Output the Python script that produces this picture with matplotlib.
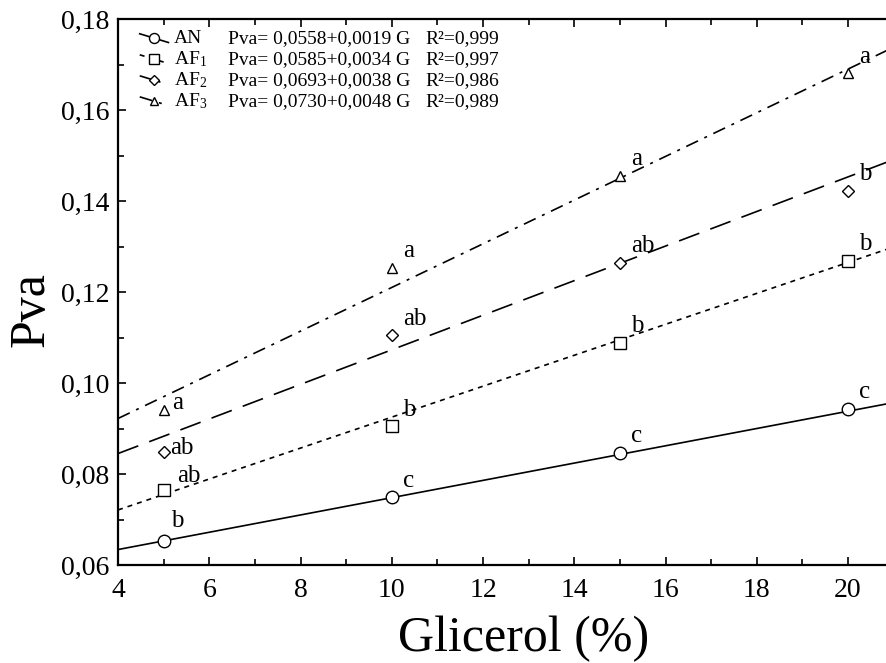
import numpy as np
import matplotlib.pyplot as plt
from matplotlib.ticker import MultipleLocator, FuncFormatter

plt.rcParams['font.family'] = ['Liberation Serif', 'DejaVu Serif']
plt.rcParams['mathtext.fontset'] = 'custom'
plt.rcParams['mathtext.rm'] = 'Liberation Serif'
plt.rcParams['mathtext.it'] = 'Liberation Serif:italic'

# data
glicerol = [5, 10, 15, 20]
series = ["AN", "AF$_1$", "AF$_2$", "AF$_3$"]
pva_an = [0.0653, 0.0749, 0.0846, 0.0943]
pva_af1 = [0.0765, 0.0905, 0.1088, 0.1268]
pva_af2 = [0.0848, 0.1105, 0.1264, 0.1422]
pva_af3 = [0.0941, 0.1253, 0.1455, 0.1681]
letters_an = ["b", "c", "c", "c"]
letters_af1 = ["ab", "b", "b", "b"]
letters_af2 = ["ab", "ab", "ab", "b"]
letters_af3 = ["a", "a", "a", "a"]
intercepts = [0.0558, 0.0585, 0.0693, 0.0730]
slopes = [0.0019, 0.0034, 0.0038, 0.0048]
r2 = ["0,999", "0,997", "0,986", "0,989"]

values = [pva_an, pva_af1, pva_af2, pva_af3]
letters = [letters_an, letters_af1, letters_af2, letters_af3]
markers = ["o", "s", "D", "^"]
msizes = [9, 8.5, 6, 7.5]
styles = ["-", (0, (3, 3)), (0, (13, 7)), (0, (7.8, 4.2, 1.8, 4.2))]
first_off = [(5, 14), (10, 10), (5, 3), (6, 5)]  # label offsets at x=5

fig = plt.figure(figsize=(8.86, 6.63), dpi=100)
ax = fig.add_axes([0.1332, 0.1478, 0.8754, 0.8235])

x_line = np.array([4, 21])
for i in range(4):
    y_line = intercepts[i] + slopes[i] * x_line
    ax.plot(x_line, y_line, color="black", lw=1.2, linestyle=styles[i])
    ax.plot(glicerol, values[i], linestyle="none", marker=markers[i], ms=msizes[i],
            mfc="white", mec="black", mew=1.0, zorder=3)
    for x, y, t in zip(glicerol, values[i], letters[i]):
        off = first_off[i] if x == 5 else (8, 12)
        ax.annotate(t, (x, y), textcoords="offset points", xytext=off,
                    fontsize=18, ha="left", va="center")

# legend drawn by hand
for i in range(4):
    yy = 0.965 - i * 0.0385
    ax.plot([0.028, 0.065], [yy + 0.008, yy - 0.008], color="black", lw=1.2,
            linestyle=styles[i], transform=ax.transAxes, clip_on=False)
    ax.plot([0.046], [yy], marker=markers[i], ms=msizes[i] * 0.8, mfc="white",
            mec="black", mew=1.0, transform=ax.transAxes, linestyle="none")
    ax.text(0.072, yy, series[i], transform=ax.transAxes, fontsize=14, va="center")
    eq = "Pva= %s+%s G" % (("%.4f" % intercepts[i]).replace(".", ","),
                           ("%.4f" % slopes[i]).replace(".", ","))
    ax.text(0.142, yy, eq, transform=ax.transAxes, fontsize=14, va="center")
    ax.text(0.396, yy, "R\u00b2=" + r2[i], transform=ax.transAxes, fontsize=14, va="center")

ax.set_xlim(4, 21)
ax.set_ylim(0.06, 0.18)
ax.xaxis.set_major_locator(MultipleLocator(2))
ax.xaxis.set_minor_locator(MultipleLocator(1))
ax.yaxis.set_major_locator(MultipleLocator(0.02))
ax.yaxis.set_minor_locator(MultipleLocator(0.01))
ax.yaxis.set_major_formatter(FuncFormatter(lambda v, p: ("%.2f" % v).replace(".", ",")))
ax.tick_params(which="both", direction="in", top=True, right=False, labelsize=20, width=1.2)
ax.tick_params(which="major", length=6)
ax.tick_params(which="minor", length=4)
ax.tick_params(axis="x", pad=9)
ax.tick_params(axis="y", pad=6)
for s in ax.spines.values():
    s.set_linewidth(1.6)

ax.set_xlabel("Glicerol (%)", fontsize=36)
ax.xaxis.set_label_coords(0.523, -0.092)
ax.set_ylabel("Pva", fontsize=36)
ax.yaxis.set_label_coords(-0.082, 0.467)

fig.savefig("out.png", dpi=100)
